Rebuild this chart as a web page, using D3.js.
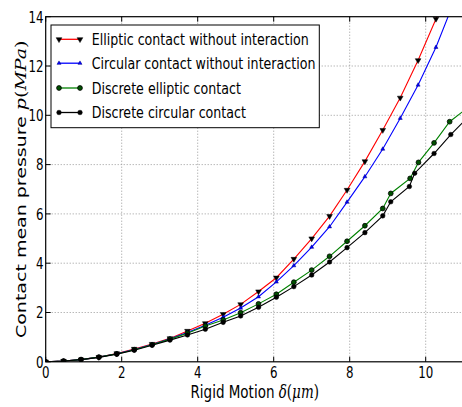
<!DOCTYPE html>
<html>
<head>
<meta charset="utf-8">
<script src="https://cdn.jsdelivr.net/npm/d3@7"></script>
<style>
  html, body { margin: 0; padding: 0; background: #fff; }
  svg { display: block; }
</style>
</head>
<body>
<svg id="chart" width="462" height="407"></svg>
<script>
// ---------------- data ----------------
const deltaUniform = [0,0.47,0.93,1.4,1.87,2.33,2.8,3.27,3.73,4.2,4.67,5.13,5.6,6.07,6.53,7.0,7.47,7.93,8.4,8.87,9.33,9.8,10.27,10.73];
const ellipticNoInteraction = [0,0.03,0.09,0.19,0.34,0.52,0.72,0.95,1.25,1.56,1.93,2.33,2.85,3.41,4.17,5.00,5.91,6.97,8.13,9.40,10.71,12.23,13.91,15.7];
const circularNoInteraction = [0,0.03,0.09,0.19,0.33,0.50,0.70,0.93,1.19,1.48,1.81,2.18,2.64,3.24,3.90,4.65,5.48,6.48,7.51,8.63,9.88,11.23,12.76,14.55];

const deltaDiscreteElliptic = [0,0.47,0.93,1.4,1.87,2.33,2.8,3.27,3.73,4.2,4.67,5.13,5.6,6.07,6.53,7.0,7.47,7.93,8.4,8.87,9.08,9.59,9.81,10.22,10.63,11.1];
const discreteElliptic = [0,0.03,0.09,0.19,0.32,0.49,0.69,0.92,1.16,1.45,1.70,1.99,2.35,2.74,3.23,3.72,4.28,4.89,5.52,6.22,6.83,7.44,8.09,8.88,9.74,10.3];

const deltaDiscreteCircular = [0,0.47,0.93,1.4,1.87,2.33,2.8,3.27,3.73,4.2,4.67,5.13,5.6,6.07,6.53,7.0,7.47,7.93,8.4,8.87,9.08,9.57,9.71,10.22,10.66,11.1];
const discreteCircular = [0,0.03,0.09,0.18,0.31,0.47,0.67,0.88,1.09,1.32,1.60,1.86,2.21,2.62,3.05,3.52,4.05,4.63,5.24,5.92,6.49,7.11,7.65,8.45,9.22,9.9];

const xTicks = [0,2,4,6,8,10];
const yTicks = [0,2,4,6,8,10,12,14];
const seriesNames = ["Elliptic contact without interaction","Circular contact without interaction","Discrete elliptic contact","Discrete circular contact"];

// ---------------- layout ----------------
const svg = d3.select("#chart");
const L = 45.7, R = 463.7, T = 16.7, B = 361.8;
const x = d3.scaleLinear().domain([0, 11]).range([L, R]);
const y = d3.scaleLinear().domain([0, 14]).range([B, T]);
const SANS = "'DejaVu Sans', sans-serif";
const SERIF = "'DejaVu Serif', serif";

function squashText(g, px, py, sx, str, opts) {
  return g.append("text")
    .attr("transform", `translate(${px},${py}) scale(${sx},1)`)
    .attr("font-family", SANS)
    .attr("font-size", opts.size)
    .attr("fill", "#000")
    .attr("text-anchor", opts.anchor || "start")
    .text(str);
}

svg.append("defs").append("clipPath").attr("id", "plotclip")
  .append("rect").attr("x", L).attr("y", T).attr("width", R - L).attr("height", B - T);

// grid
const grid = svg.append("g");
xTicks.filter(v => v > 0).forEach(v => {
  grid.append("line").attr("x1", x(v)).attr("x2", x(v)).attr("y1", T).attr("y2", B)
    .attr("stroke", "#999").attr("stroke-width", 1).attr("stroke-dasharray", "1,2");
});
yTicks.filter(v => v > 0 && v < 14).forEach(v => {
  grid.append("line").attr("x1", L).attr("x2", R).attr("y1", y(v)).attr("y2", y(v))
    .attr("stroke", "#999").attr("stroke-width", 1).attr("stroke-dasharray", "1,2");
});

// series
const series = [
  {xs: deltaUniform, ys: ellipticNoInteraction, color: "#ff0000", marker: "tridown"},
  {xs: deltaUniform, ys: circularNoInteraction, color: "#0000ff", marker: "triup"},
  {xs: deltaDiscreteElliptic, ys: discreteElliptic, color: "#008000", marker: "circgreen"},
  {xs: deltaDiscreteCircular, ys: discreteCircular, color: "#000000", marker: "circblack"}
];

const plot = svg.append("g").attr("clip-path", "url(#plotclip)");
const line = d3.line().x(d => x(d[0])).y(d => y(d[1]));

function drawMarker(g, kind, cx, cy) {
  if (kind === "tridown") {
    g.append("path").attr("d", d3.symbol(d3.symbolTriangle, 14)())
      .attr("transform", `translate(${cx},${cy}) rotate(180)`)
      .attr("fill", "#000").attr("stroke", "#000").attr("stroke-width", 0.5);
  } else if (kind === "triup") {
    g.append("path").attr("d", d3.symbol(d3.symbolTriangle, 7)())
      .attr("transform", `translate(${cx},${cy})`)
      .attr("fill", "#0000ff").attr("stroke", "#000080").attr("stroke-width", 0.5);
  } else if (kind === "circgreen") {
    g.append("circle").attr("cx", cx).attr("cy", cy).attr("r", 2.4)
      .attr("fill", "#005000").attr("stroke", "#000").attr("stroke-width", 0.8);
  } else {
    g.append("circle").attr("cx", cx).attr("cy", cy).attr("r", 2.3)
      .attr("fill", "#000").attr("stroke", "#000").attr("stroke-width", 0.5);
  }
}

series.forEach(s => {
  const pts = s.xs.map((v, i) => [v, s.ys[i]]);
  plot.append("path").attr("d", line(pts)).attr("fill", "none")
    .attr("stroke", s.color).attr("stroke-width", 1.1);
});
series.forEach(s => {
  s.xs.forEach((v, i) => drawMarker(plot, s.marker, x(v), y(s.ys[i])));
});

// frame
const frame = svg.append("g");
frame.append("rect").attr("x", L).attr("y", T).attr("width", R - L).attr("height", B - T)
  .attr("fill", "none").attr("stroke", "#000").attr("stroke-width", 1.2);

// ticks (inward, top/bottom/left)
xTicks.forEach(v => {
  frame.append("line").attr("x1", x(v)).attr("x2", x(v)).attr("y1", B).attr("y2", B - 5).attr("stroke", "#000");
  frame.append("line").attr("x1", x(v)).attr("x2", x(v)).attr("y1", T).attr("y2", T + 5).attr("stroke", "#000");
});
yTicks.forEach(v => {
  frame.append("line").attr("x1", L).attr("x2", L + 5).attr("y1", y(v)).attr("y2", y(v)).attr("stroke", "#000");
});

// tick labels
const labels = svg.append("g");
xTicks.forEach(v => squashText(labels, x(v), 377.5, 0.74, String(v), {size: 16, anchor: "middle"}));
yTicks.forEach(v => squashText(labels, 43.5, y(v) + 5.8, 0.74, String(v), {size: 16, anchor: "end"}));

// x label
const xl = labels.append("text")
  .attr("transform", `translate(${(L + R) / 2},398) scale(0.75,1)`)
  .attr("text-anchor", "middle").attr("font-family", SANS).attr("font-size", 18).attr("fill", "#000");
xl.append("tspan").text("Rigid Motion ");
xl.append("tspan").attr("font-family", SERIF).attr("font-style", "italic").text("δ");
xl.append("tspan").attr("font-family", SERIF).text("(");
xl.append("tspan").attr("font-family", SERIF).attr("font-style", "italic").text("μm");
xl.append("tspan").attr("font-family", SERIF).text(")");

// y label
const yl = labels.append("text")
  .attr("transform", `translate(26,${(T + B) / 2}) scale(0.75,1) rotate(-90)`)
  .attr("text-anchor", "middle").attr("font-family", SANS).attr("font-size", 19).attr("fill", "#000");
yl.append("tspan").text("Contact mean pressure ");
yl.append("tspan").attr("font-family", SERIF).attr("font-style", "italic").text("p");
yl.append("tspan").attr("font-family", SERIF).text("(");
yl.append("tspan").attr("font-family", SERIF).attr("font-style", "italic").text("MPa");
yl.append("tspan").attr("font-family", SERIF).text(")");

// legend
const lg = svg.append("g");
lg.append("rect").attr("x", 51).attr("y", 25).attr("width", 268.3).attr("height", 102.7)
  .attr("fill", "#fff").attr("stroke", "#000").attr("stroke-width", 1);
const rowY = [39.3, 63.2, 88, 112.5];
series.forEach((s, i) => {
  const ry = rowY[i];
  lg.append("line").attr("x1", 59).attr("x2", 80).attr("y1", ry).attr("y2", ry)
    .attr("stroke", s.color).attr("stroke-width", 1.3);
  drawMarker(lg, s.marker, 59, ry);
  drawMarker(lg, s.marker, 80, ry);
  squashText(lg, 91.7, ry + 5.8, 0.79, seriesNames[i], {size: 16});
});
</script>
</body>
</html>
